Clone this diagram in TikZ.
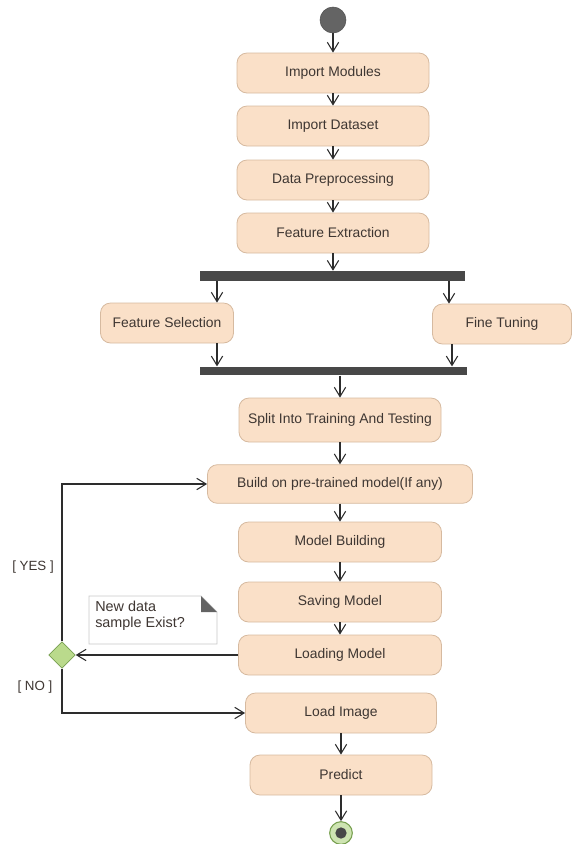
\documentclass[tikz,border=0pt]{standalone}
\usepackage{fontspec}
\setmainfont{Liberation Sans}
\usetikzlibrary{arrows.meta,shapes.geometric}

\definecolor{actfill}{RGB}{250,224,200}
\definecolor{actborder}{RGB}{214,186,160}
\definecolor{txt}{RGB}{62,54,50}
\definecolor{linec}{RGB}{45,45,45}
\definecolor{bargrey}{RGB}{72,72,72}
\definecolor{startgrey}{RGB}{100,100,100}
\definecolor{decfill}{RGB}{186,218,140}
\definecolor{decborder}{RGB}{120,160,80}
\definecolor{endfill}{RGB}{206,228,178}
\definecolor{notegrey}{RGB}{200,200,200}

\tikzset{
  act/.style={draw=actborder, fill=actfill, rounded corners=7.5pt, line width=0.6pt,
    minimum height=30pt, text=txt, font=\fontsize{10.4}{12}\selectfont, inner sep=0pt},
  syncbar/.style={fill=bargrey, draw=none, inner sep=0pt, minimum height=7.5pt},
  flow/.style={draw=linec, line width=0.8pt, -{Straight Barb[length=7pt,width=8.5pt]}},
  guard/.style={text=txt, font=\fontsize{10}{12}\selectfont, inner sep=0pt},
}

\begin{document}
\begin{tikzpicture}[x=0.75pt,y=-0.75pt]
  \useasboundingbox (0,0) rectangle (572,844);

  % initial node
  \node[circle, fill=startgrey, draw=startgrey!80!black, minimum size=19.5pt, inner sep=0pt] (start) at (333,20) {};

  % sequential preparation steps
  \node[act, minimum width=192*0.75pt] (im) at (333,73) {Import Modules};
  \node[act, minimum width=192*0.75pt] (id) at (333,126) {Import Dataset};
  \node[act, minimum width=192*0.75pt] (dp) at (333,180) {Data Preprocessing};
  \node[act, minimum width=192*0.75pt] (fe) at (333,233) {Feature Extraction};

  % fork / join bars
  \node[syncbar, minimum width=265*0.75pt] (fork) at (332.5,276) {};
  \node[syncbar, minimum width=267*0.75pt, minimum height=6.5pt] (join) at (333.5,371) {};

  % parallel branches
  \node[act, minimum width=133*0.75pt] (fs) at (167,323) {Feature Selection};
  \node[act, minimum width=139*0.75pt] (ft) at (502,324) {Fine Tuning};

  % model pipeline
  \node[act, minimum width=202*0.75pt, minimum height=33pt] (sp) at (340,420) {Split Into Training And Testing};
  \node[act, minimum width=265*0.75pt, minimum height=29pt] (bd) at (340,484) {Build on pre-trained model(If any)};
  \node[act, minimum width=203*0.75pt] (mb) at (340,542) {Model Building};
  \node[act, minimum width=203*0.75pt] (sm) at (340,602) {Saving Model};
  \node[act, minimum width=203*0.75pt] (lm) at (340,655) {Loading Model};
  \node[act, minimum width=191*0.75pt] (li) at (341,713) {Load Image};
  \node[act, minimum width=182*0.75pt] (pr) at (341,775) {Predict};

  % final node
  \node[circle, fill=endfill, draw=decborder, line width=0.8pt, minimum size=17pt, inner sep=0pt] (end) at (341,833) {};
  \node[circle, fill=bargrey, minimum size=8.5pt, inner sep=0pt] at (end) {};

  % decision
  \node[diamond, fill=decfill, draw=decborder, line width=0.6pt, minimum size=20pt, inner sep=0pt, aspect=1] (dec) at (62,655) {};

  % note
  \draw[notegrey, fill=white, line width=0.6pt] (89,596) -- (201,596) -- (217,612) -- (217,644) -- (89,644) -- cycle;
  \fill[bargrey!85] (201,596) -- (217,612) -- (201,612) -- cycle;
  \node[anchor=north west, align=left, text=txt, font=\fontsize{10.8}{12}\selectfont, inner sep=0pt] (note) at (95,601) {New data\\sample Exist?};

  % branch columns
  \coordinate (xl) at (217,0);
  \coordinate (xr) at (449,0);
  \coordinate (xl2) at (217,0);
  \coordinate (xr2) at (452,0);

  % connectors
  \draw[flow] (start) -- (im);
  \draw[flow] (im) -- (id);
  \draw[flow] (id) -- (dp);
  \draw[flow] (dp) -- (fe);
  \draw[flow] (fe) -- (fe.south |- fork.north);
  \draw[flow] (fork.south -| xl) -- (fs.north -| xl);
  \draw[flow] (fork.south -| xr) -- (ft.north -| xr);
  \draw[flow] (fs.south -| xl2) -- (join.north -| xl2);
  \draw[flow] (ft.south -| xr2) -- (join.north -| xr2);
  \draw[flow] (join.south -| sp.north) -- (sp);
  \draw[flow] (sp) -- (bd);
  \draw[flow] (bd) -- (mb);
  \draw[flow] (mb) -- (sm);
  \draw[flow] (sm) -- (lm);
  \draw[flow] (lm.west) -- (dec.east);
  \draw[flow] (dec.north) |- (bd.west);
  \draw[flow] (dec.south) |- (li.west);
  \draw[flow] (li) -- (pr);
  \draw[flow] (pr) -- (end);

  % guards
  \node[guard] (yes) at (33,567) {[ YES ]};
  \node[guard] (no) at (35,687) {[ NO ]};
\end{tikzpicture}
\end{document}
